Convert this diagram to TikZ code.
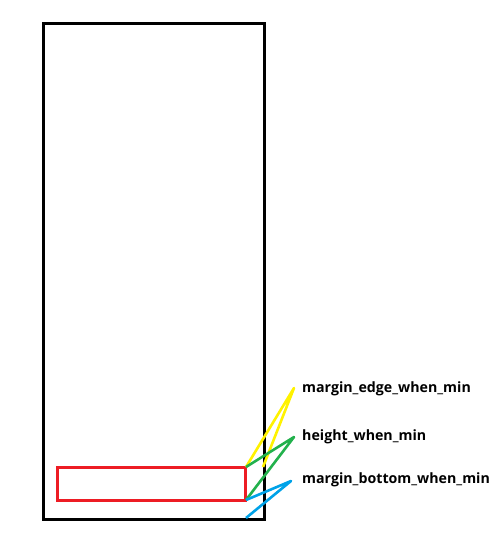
\documentclass[tikz,border=0pt]{standalone}
\usepackage{fontspec}
\setmainfont{Open Sans}
\definecolor{pyellow}{HTML}{FFF200}
\definecolor{pgreen}{HTML}{22B14C}
\definecolor{pblue}{HTML}{00A2E8}
\definecolor{pred}{HTML}{ED1C24}
\begin{document}
\begin{tikzpicture}[x=1pt,y=-1pt,
  lbl/.style={anchor=west,inner sep=0pt,font=\fontsize{14.2}{16}\selectfont\bfseries},
  pointer/.style={line width=2.6pt,line join=round}]
\useasboundingbox (0,0) rectangle (496,545);
\draw[line width=3pt] (43,24) rectangle (264,519);
\draw[pred,line width=3pt] (57,467) rectangle (245,500);
\coordinate (rt) at (246,467);
\coordinate (rb) at (246,500);
\coordinate (et) at (263,467);
\coordinate (bb) at (246,518);
\node[lbl] (l1) at (302,389) {margin\_edge\_when\_min};
\node[lbl] (l2) at (302,437) {height\_when\_min};
\node[lbl] (l3) at (302,480) {margin\_bottom\_when\_min};
\coordinate (t1) at (294,388);
\coordinate (t2) at (294,437);
\coordinate (t3) at (291,481);
\draw[pointer,pyellow] (rt) -- (t1) -- (et);
\draw[pointer,pgreen] (rt) -- (t2) -- (rb);
\draw[pointer,pblue] (rb) -- (t3) -- (bb);
\end{tikzpicture}
\end{document}
